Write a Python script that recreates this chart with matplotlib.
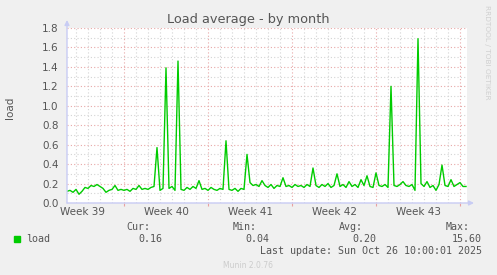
"""
Munin style load graph, monthly view
"""

import matplotlib
matplotlib.use("Agg")
import matplotlib.pyplot as plt

# load samples, one every 6 hours (0.25 day) from the left edge of the graph
load = [0.12, 0.13, 0.11, 0.14, 0.09, 0.12, 0.16, 0.15, 0.18, 0.17,
        0.19, 0.17, 0.15, 0.11, 0.13, 0.14, 0.18, 0.13, 0.14, 0.13,
        0.14, 0.12, 0.15, 0.14, 0.18, 0.14, 0.15, 0.14, 0.16, 0.17,
        0.57, 0.13, 0.15, 1.39, 0.15, 0.17, 0.13, 1.46, 0.14, 0.13,
        0.16, 0.14, 0.17, 0.15, 0.23, 0.14, 0.15, 0.13, 0.16, 0.14,
        0.13, 0.15, 0.14, 0.64, 0.14, 0.13, 0.15, 0.12, 0.15, 0.14,
        0.50, 0.21, 0.18, 0.19, 0.17, 0.23, 0.18, 0.16, 0.19, 0.15,
        0.18, 0.17, 0.26, 0.17, 0.18, 0.16, 0.19, 0.17, 0.18, 0.16,
        0.19, 0.17, 0.36, 0.18, 0.16, 0.19, 0.17, 0.20, 0.16, 0.18,
        0.30, 0.17, 0.19, 0.16, 0.22, 0.17, 0.19, 0.16, 0.24, 0.18,
        0.28, 0.17, 0.16, 0.31, 0.18, 0.17, 0.19, 0.16, 1.20, 0.18,
        0.17, 0.19, 0.22, 0.18, 0.17, 0.19, 0.13, 1.69, 0.20, 0.17,
        0.22, 0.16, 0.18, 0.13, 0.19, 0.39, 0.18, 0.17, 0.24, 0.17,
        0.19, 0.21, 0.17, 0.17]
step = 0.25  # days per sample
days = [i * step for i in range(len(load))]

week_labels = ["Week 39", "Week 40", "Week 41", "Week 42", "Week 43"]
week_starts = [4.75, 11.75, 18.75, 25.75, 32.75]
week_mid = [1.25, 8.25, 15.25, 22.25, 29.25]

legend_cols = ["Cur:", "Min:", "Avg:", "Max:"]
legend_vals = ["0.16", "0.04", "0.20", "15.60"]
last_update = "Last update: Sun Oct 26 10:00:01 2025"

W, H = 497, 275
bg = "#F0F0F0"
txt = "#555555"
green = "#00CC00"
axis_col = "#C8CCF4"

def fx(x):
    return x / W

def fy(y):
    return 1 - y / H

fig = plt.figure(figsize=(W / 100, H / 100), dpi=100, facecolor=bg)
ax = fig.add_axes([fx(67), fy(203), 400 / W, 175 / H])
ax.set_facecolor("white")

ax.set_xlim(0, 400 / 12)
ax.set_ylim(0, 1.8)

# grid: days / weeks on x, 0.1 / 0.2 on y
ax.set_xticks(week_starts)
ax.set_xticks([0.75 + d for d in range(33)], minor=True)
ax.set_yticks([0.2 * i for i in range(10)])
ax.set_yticks([0.1 * i for i in range(19)], minor=True)
ax.set_xticklabels([])
ax.set_yticklabels(["%.1f" % (0.2 * i) for i in range(10)])

ax.grid(which="minor", color="#D4D4D4", linestyle=(0, (1, 2)), lw=0.8)
ax.grid(which="major", color="#E8A8A8", linestyle=(0, (1, 2)), lw=0.8)
ax.set_axisbelow(True)

ax.tick_params(axis="y", which="both", length=0, pad=6, labelsize=7.5, labelcolor=txt)
ax.tick_params(axis="x", which="major", length=2.5, color="#E8A0A0", width=0.8)
ax.tick_params(axis="x", which="minor", length=0)

for s in ax.spines.values():
    s.set_visible(False)

ax.plot(days, load, color=green, lw=1.0, zorder=3)

for lbl, m in zip(week_labels, week_mid):
    ax.text(m, -9 / 175, lbl, transform=ax.get_xaxis_transform(),
            ha="center", va="center", fontsize=7.5, color=txt)

# axis lines with arrows
arrow = dict(arrowstyle="-|>", color=axis_col, lw=1.0, mutation_scale=7,
             shrinkA=0, shrinkB=0)
ax.annotate("", xy=(474, H - 203), xytext=(67, H - 203),
            xycoords="figure pixels", textcoords="figure pixels", arrowprops=arrow)
ax.annotate("", xy=(67, H - 20), xytext=(67, H - 203),
            xycoords="figure pixels", textcoords="figure pixels", arrowprops=arrow)

fig.text(fx(248), fy(19), "Load average - by month", ha="center", va="center",
         fontsize=9.3, color=txt)
fig.text(fx(10), fy(108), "load", rotation=90, ha="center", va="center",
         fontsize=7.5, color=txt)
fig.text(fx(487), fy(5), "RRDTOOL / TOBI OETIKER", rotation=270, ha="center",
         va="top", fontsize=5.3, color="#D0D0D0")

# legend block
mono = "DejaVu Sans Mono"
fig.patches.append(plt.Rectangle((fx(14), fy(242)), 6 / W, 6 / H,
                                 transform=fig.transFigure, color=green))
fig.text(fx(26), fy(239), "load", ha="left", va="center", fontsize=7.2,
         family=mono, color=txt)
col_right = [150, 257, 363, 470]
val_right = [162, 269, 376, 482]
for c, v, cr, vr in zip(legend_cols, legend_vals, col_right, val_right):
    fig.text(fx(cr), fy(227), c, ha="right", va="center", fontsize=7.2,
             family=mono, color=txt)
    fig.text(fx(vr), fy(239), v, ha="right", va="center", fontsize=7.2,
             family=mono, color=txt)
fig.text(fx(482), fy(251), last_update, ha="right", va="center", fontsize=7.2,
         family=mono, color=txt)
fig.text(fx(248), fy(265), "Munin 2.0.76", ha="center", va="center",
         fontsize=5.5, color="#CCCCCC")

fig.savefig("out.png", dpi=100, facecolor=bg)
plt.close()
